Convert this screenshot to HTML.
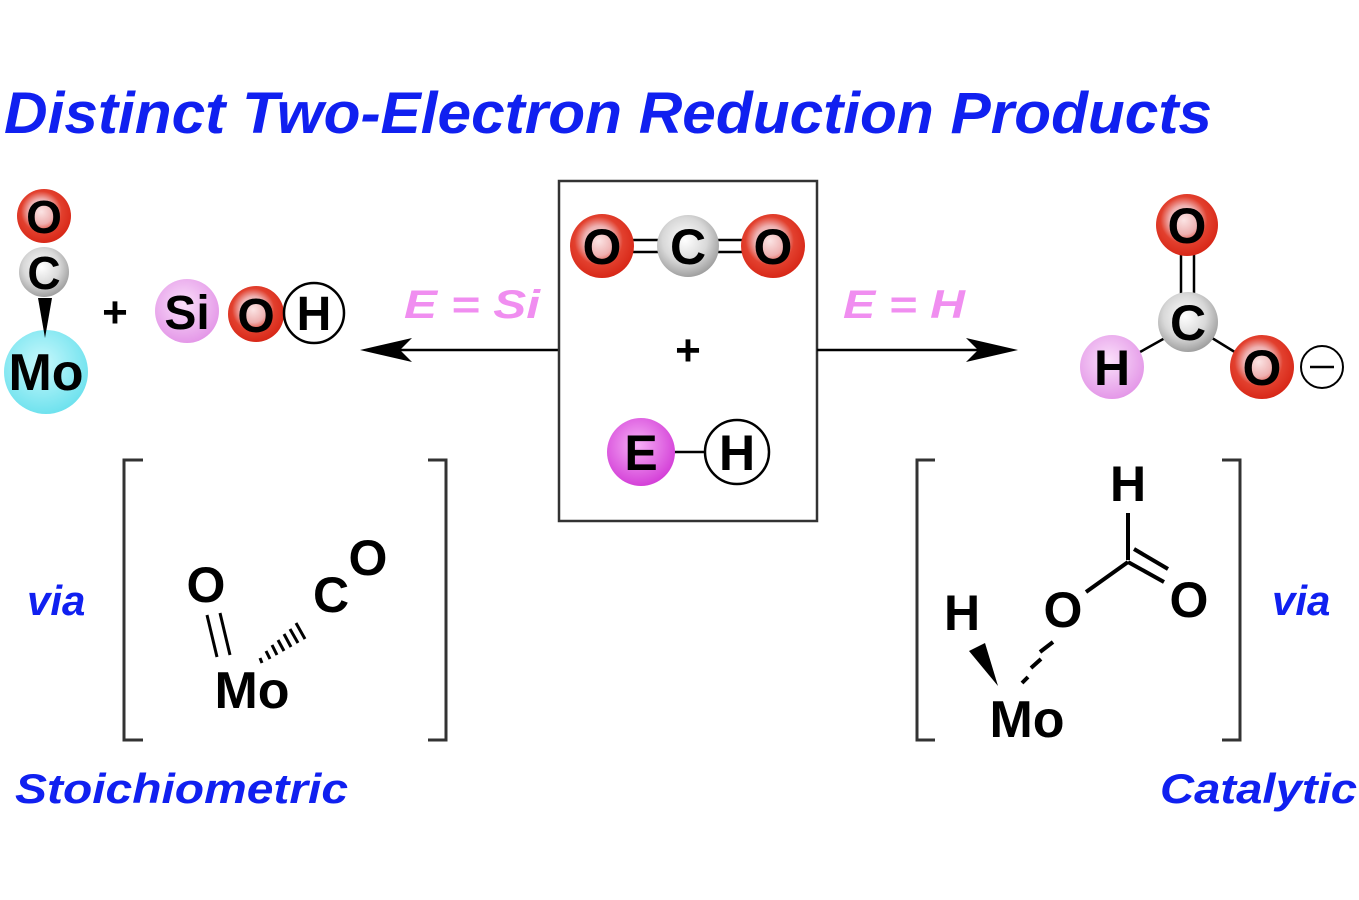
<!DOCTYPE html>
<html><head><meta charset="utf-8"><style>html,body{margin:0;padding:0;background:#fff}svg{display:block}</style></head><body>
<svg width="1359" height="900" viewBox="0 0 1359 900" xmlns="http://www.w3.org/2000/svg" font-family="Liberation Sans, sans-serif" font-weight="bold">
<defs>
<radialGradient id="red" cx="0.45" cy="0.42" r="0.58"><stop offset="0" stop-color="#fbe4e4"/><stop offset="0.4" stop-color="#eeb0b0"/><stop offset="0.65" stop-color="#e2402e"/><stop offset="1" stop-color="#d82818"/></radialGradient>
<radialGradient id="gray" cx="0.45" cy="0.4" r="0.6"><stop offset="0" stop-color="#ffffff"/><stop offset="0.6" stop-color="#d8d8d8"/><stop offset="1" stop-color="#a0a0a0"/></radialGradient>
<radialGradient id="cyan" cx="0.45" cy="0.4" r="0.6"><stop offset="0" stop-color="#c8f8fc"/><stop offset="1" stop-color="#6fe2ee"/></radialGradient>
<radialGradient id="pink" cx="0.45" cy="0.4" r="0.6"><stop offset="0" stop-color="#fae0fa"/><stop offset="1" stop-color="#e498e8"/></radialGradient>
<radialGradient id="mag" cx="0.45" cy="0.4" r="0.6"><stop offset="0" stop-color="#f6b0f6"/><stop offset="1" stop-color="#d440d8"/></radialGradient>
</defs>
<text x="4" y="133" font-size="58" font-style="italic" fill="#1020f0" textLength="1208" lengthAdjust="spacingAndGlyphs">Distinct Two-Electron Reduction Products</text>

<!-- left product -->
<circle cx="46" cy="372" r="42" fill="url(#cyan)"/>
<polygon points="38,298 52,298 45,338" fill="#000"/>
<circle cx="44" cy="272" r="25" fill="url(#gray)"/>
<circle cx="44" cy="216" r="27" fill="url(#red)"/>
<g font-size="46" text-anchor="middle">
<text x="44" y="233">O</text>
<text x="44" y="289">C</text>
<text x="46" y="390" font-size="52">Mo</text>
</g>
<text x="115" y="327" font-size="44" text-anchor="middle">+</text>
<circle cx="187" cy="311" r="32" fill="url(#pink)"/>
<circle cx="256" cy="314" r="28" fill="url(#red)"/>
<circle cx="314" cy="313" r="30" fill="#fff" stroke="#000" stroke-width="2.5"/>
<g font-size="48" text-anchor="middle">
<text x="187" y="329">Si</text>
<text x="256" y="332">O</text>
<text x="314" y="330">H</text>
</g>

<!-- left arrow -->
<line x1="558" y1="350" x2="390" y2="350" stroke="#000" stroke-width="2.5"/>
<polygon points="360,350 412,338 400,350 412,362" fill="#000"/>
<text x="404" y="318" font-size="40" font-style="italic" fill="#f08ef0" textLength="136" lengthAdjust="spacingAndGlyphs">E = Si</text>

<!-- box -->
<rect x="559" y="181" width="258" height="340" fill="none" stroke="#333" stroke-width="2.5"/>
<g stroke="#000" stroke-width="2.5">
<line x1="630" y1="240" x2="660" y2="240"/><line x1="630" y1="252" x2="660" y2="252"/>
<line x1="716" y1="240" x2="745" y2="240"/><line x1="716" y1="252" x2="745" y2="252"/>
<line x1="672" y1="452" x2="708" y2="452"/>
</g>
<circle cx="602" cy="246" r="32" fill="url(#red)"/>
<circle cx="688" cy="246" r="31" fill="url(#gray)"/>
<circle cx="773" cy="246" r="32" fill="url(#red)"/>
<circle cx="641" cy="452" r="34" fill="url(#mag)"/>
<circle cx="737" cy="452" r="32" fill="#fff" stroke="#000" stroke-width="2.5"/>
<g font-size="50" text-anchor="middle">
<text x="602" y="264">O</text>
<text x="688" y="264">C</text>
<text x="773" y="264">O</text>
<text x="688" y="365" font-size="44">+</text>
<text x="641" y="470">E</text>
<text x="737" y="470">H</text>
</g>

<!-- right arrow -->
<line x1="817" y1="350" x2="990" y2="350" stroke="#000" stroke-width="2.5"/>
<polygon points="1018,350 966,338 978,350 966,362" fill="#000"/>
<text x="843" y="318" font-size="40" font-style="italic" fill="#f08ef0" textLength="122" lengthAdjust="spacingAndGlyphs">E = H</text>

<!-- formate -->
<g stroke="#000" stroke-width="2.5">
<line x1="1181" y1="250" x2="1181" y2="295"/><line x1="1194" y1="250" x2="1194" y2="295"/>
<line x1="1140" y1="352" x2="1165" y2="338"/>
<line x1="1212" y1="338" x2="1238" y2="354"/>
</g>
<circle cx="1187" cy="225" r="31" fill="url(#red)"/>
<circle cx="1188" cy="322" r="30" fill="url(#gray)"/>
<circle cx="1112" cy="367" r="32" fill="url(#pink)"/>
<circle cx="1262" cy="367" r="32" fill="url(#red)"/>
<circle cx="1322" cy="367" r="21" fill="#fff" stroke="#000" stroke-width="2"/>
<line x1="1310" y1="367" x2="1334" y2="367" stroke="#000" stroke-width="2.5"/>
<g font-size="50" text-anchor="middle">
<text x="1187" y="243">O</text>
<text x="1188" y="340">C</text>
<text x="1112" y="385">H</text>
<text x="1262" y="385">O</text>
</g>

<!-- brackets -->
<g fill="none" stroke="#333" stroke-width="3">
<polyline points="143,460 124,460 124,740 143,740"/>
<polyline points="428,460 446,460 446,740 428,740"/>
<polyline points="935,460 917,460 917,740 935,740"/>
<polyline points="1222,460 1240,460 1240,740 1222,740"/>
</g>
<g font-size="42" font-style="italic" fill="#1020f0">
<text x="27" y="615">via</text>
<text x="1272" y="615">via</text>
<text x="15" y="803" textLength="333" lengthAdjust="spacingAndGlyphs">Stoichiometric</text>
<text x="1160" y="803" textLength="197" lengthAdjust="spacingAndGlyphs">Catalytic</text>
</g>

<!-- left intermediate -->
<g font-size="50" text-anchor="middle">
<text x="206" y="602">O</text>
<text x="252" y="708" font-size="52">Mo</text>
<text x="331" y="612">C</text>
<text x="368" y="575">O</text>
</g>
<g stroke="#000" stroke-width="3">
<line x1="207" y1="615" x2="217" y2="657"/><line x1="220" y1="613" x2="230" y2="655"/>
<line x1="260" y1="658" x2="262" y2="663"/>
<line x1="266" y1="651" x2="270" y2="659"/>
<line x1="272" y1="645" x2="277" y2="655"/>
<line x1="278" y1="640" x2="284" y2="651"/>
<line x1="284" y1="634" x2="291" y2="647"/>
<line x1="290" y1="629" x2="298" y2="643"/>
<line x1="296" y1="623" x2="305" y2="639"/>
</g>

<!-- right intermediate -->
<g font-size="50" text-anchor="middle">
<text x="1128" y="501">H</text>
<text x="962" y="630">H</text>
<text x="1063" y="627">O</text>
<text x="1189" y="617">O</text>
<text x="1027" y="737" font-size="52">Mo</text>
</g>
<g stroke="#000" stroke-width="4">
<line x1="1128" y1="513" x2="1128" y2="560"/>
<line x1="1086" y1="592" x2="1128" y2="562"/>
<line x1="1128" y1="562" x2="1164" y2="582"/>
<line x1="1134" y1="549" x2="1168" y2="569"/>
<line x1="1022" y1="683" x2="1028" y2="677"/>
<line x1="1031" y1="668" x2="1041" y2="659"/>
<line x1="1040" y1="652" x2="1053" y2="642"/>
</g>
<polygon points="969,651 985,643 998,686" fill="#000"/>
</svg>
</body></html>
